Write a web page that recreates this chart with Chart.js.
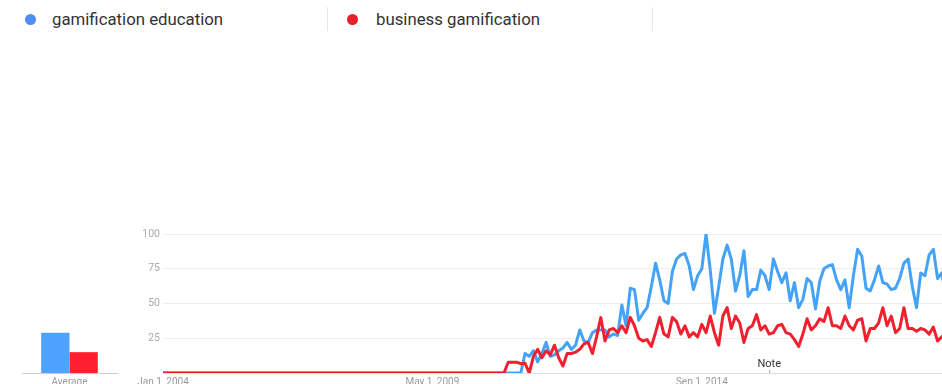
<!DOCTYPE html>
<html>
<head>
<meta charset="utf-8">
<script src="https://cdn.jsdelivr.net/npm/chart.js@4.4.0/dist/chart.umd.min.js"></script>
<style>
  html, body { margin: 0; padding: 0; width: 942px; height: 384px; overflow: hidden; background: #fff; font-family: Roboto, Arial, sans-serif; }
  .item { position: absolute; top: 9px; font-size: 16.8px; line-height: 20px; color: #333; white-space: nowrap; }
  .dot { position: absolute; top: 13.5px; width: 11px; height: 11px; border-radius: 50%; }
  .sep { position: absolute; top: 7px; width: 1px; height: 24px; background: #e8e8e8; }
  #main, #avg { position: absolute; left: 0; top: 224px; }
</style>
</head>
<body>
<div class="dot" style="left:24.5px;background:#4c8df6"></div>
<div class="item" style="left:52px">gamification education</div>
<div class="sep" style="left:327px"></div>
<div class="dot" style="left:347px;background:#e8202a"></div>
<div class="item" style="left:376px">business gamification</div>
<div class="sep" style="left:652px"></div>

<canvas id="main" width="946" height="170"></canvas>
<canvas id="avg" width="140" height="170"></canvas>

<script>
// series names
const seriesNames = ['gamification education', 'business gamification'];

// monthly interest, Jan 2004 onwards
const educationVals = [
  0,0,0,0,0,0,0,0,0,0, 0,0,0,0,0,0,0,0,0,0,
  0,0,0,0,0,0,0,0,0,0, 0,0,0,0,0,0,0,0,0,0,
  0,0,0,0,0,0,0,0,0,0, 0,0,0,0,0,0,0,0,0,0,
  0,0,0,0,0,0,0,0,0,0, 0,0,0,0,0,0,0,0,0,0,
  0,0,0,0,0,0,
  14,12,16,8,14,22,12,13,16,18,
  22,17,20,31,23,22,29,31,31,31,
  26,28,27,49,34,61,60,38,43,47,
  62,79,67,52,50,73,82,85,86,77,
  60,70,75,100,74,43,62,82,92,82,
  59,70,88,55,60,60,74,70,60,82,
  73,65,72,52,65,47,53,68,65,46,
  66,75,77,78,67,60,67,47,70,89,
  84,61,59,67,77,65,64,60,61,68,
  79,82,62,47,72,70,85,89,68,72,
  55
];
const businessVals = [
  0,0,0,0,0,0,0,0,0,0, 0,0,0,0,0,0,0,0,0,0,
  0,0,0,0,0,0,0,0,0,0, 0,0,0,0,0,0,0,0,0,0,
  0,0,0,0,0,0,0,0,0,0, 0,0,0,0,0,0,0,0,0,0,
  0,0,0,0,0,0,0,0,0,0, 0,0,0,0,0,0,0,0,0,0,
  0,0,
  7.7,7.7,7.7,6.7,7,0,12,17,11,16,
  13,20,11,5,14,14,15,17,21,22,
  14,26,40,23,31,32,29,34,29,40,
  34,25,23,24,19,29,40,28,26,40,
  37,28,34,26,29,26,35,29,41,29,
  20,41,47,32,41,36,22,32,34,42,
  31,34,28,29,34,35,29,28,24,19,
  28,39,31,34,39,37,47,34,34,32,
  41,34,31,38,39,23,32,32,36,47,
  34,41,29,32,47,32,32,30,32,31,
  28,33,23,26,28
];
const averageVals = [29, 15];

const xTickLabels = ['Jan 1, 2004', 'May 1, 2009', 'Sep 1, 2014'];
const noteMonth = 'Jan 1, 2016';

const blue = '#45a3f7';
const red = '#f2202f';

// month labels for the category axis
const monthNames = ['Jan','Feb','Mar','Apr','May','Jun','Jul','Aug','Sep','Oct','Nov','Dec'];
const months = [];
for (let i = 0; i < educationVals.length; i++) {
  months.push(`${monthNames[i % 12]} 1, ${2004 + Math.floor(i / 12)}`);
}

// "Note" marker under the line
const notePlugin = {
  id: 'note',
  afterDraw(chart) {
    const { ctx, chartArea } = chart;
    const x = chart.scales.x.getPixelForValue(months.indexOf(noteMonth));
    ctx.save();
    ctx.fillStyle = '#333';
    ctx.font = '11px Roboto, Arial, sans-serif';
    ctx.textAlign = 'center';
    ctx.textBaseline = 'middle';
    ctx.fillText('Note', x, chartArea.bottom - 9);
    ctx.strokeStyle = '#999';
    ctx.lineWidth = 1;
    ctx.beginPath();
    ctx.moveTo(x + 0.5, chartArea.bottom - 3);
    ctx.lineTo(x + 0.5, chartArea.bottom);
    ctx.stroke();
    ctx.restore();
  }
};

new Chart(document.getElementById('main'), {
  type: 'line',
  data: {
    labels: months,
    datasets: [
      { label: seriesNames[0], data: educationVals, borderColor: blue, order: 2 },
      { label: seriesNames[1], data: businessVals, borderColor: red, order: 1 }
    ]
  },
  options: {
    responsive: false,
    animation: false,
    layout: { padding: { top: 10, right: 0, left: 0, bottom: 0 } },
    elements: {
      point: { radius: 0 },
      line: { borderWidth: 3, tension: 0, borderJoinStyle: 'round' }
    },
    plugins: { legend: { display: false }, tooltip: { enabled: false } },
    scales: {
      x: {
        grid: { display: false, drawTicks: false },
        border: { color: '#ddd' },
        ticks: {
          autoSkip: false,
          maxRotation: 0,
          color: '#999',
          font: { size: 10, family: 'Roboto' },
          padding: 3,
          callback(v) {
            const l = this.getLabelForValue(v);
            return xTickLabels.includes(l) ? l : null;
          }
        },
        afterFit: s => { s.height = 21; }
      },
      y: {
        min: 0,
        max: 100,
        grid: { color: '#eeeeee', drawTicks: false },
        border: { display: false },
        ticks: {
          stepSize: 25,
          color: '#aaa',
          font: { size: 10.5, family: 'Roboto' },
          padding: 3,
          callback: v => v === 0 ? '' : v
        },
        afterFit: s => { s.width = 163; }
      }
    }
  },
  plugins: [notePlugin]
});

new Chart(document.getElementById('avg'), {
  type: 'bar',
  data: {
    labels: ['Average'],
    datasets: [
      { label: seriesNames[0], data: [averageVals[0]], backgroundColor: '#4da3ff' },
      { label: seriesNames[1], data: [averageVals[1]], backgroundColor: '#ff1f2f' }
    ]
  },
  options: {
    responsive: false,
    animation: false,
    layout: { padding: { top: 10, left: 22, right: 23, bottom: 0 } },
    categoryPercentage: 0.596,
    barPercentage: 1,
    plugins: { legend: { display: false }, tooltip: { enabled: false } },
    scales: {
      x: {
        grid: { display: false, drawTicks: false },
        border: { color: '#ccc' },
        ticks: { color: '#999', font: { size: 10, family: 'Roboto' }, padding: 3 },
        afterFit: s => { s.height = 21; }
      },
      y: { display: false, min: 0, max: 100 }
    }
  }
});
</script>
</body>
</html>
